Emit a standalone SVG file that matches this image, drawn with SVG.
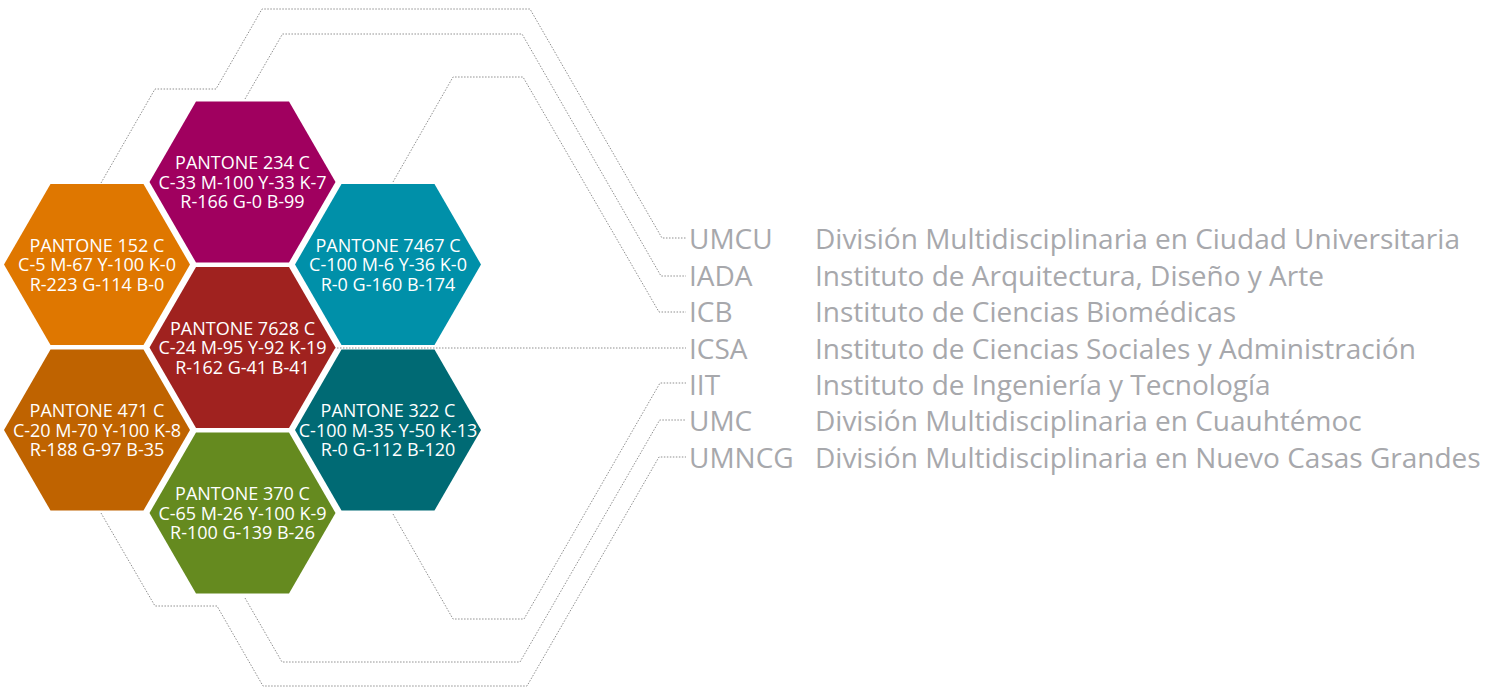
<svg xmlns="http://www.w3.org/2000/svg" xmlns:xlink="http://www.w3.org/1999/xlink" width="1500" height="688" viewBox="0 0 1500 688">
<style>
.conn{fill:none;stroke:#8f8f8f;stroke-width:1;stroke-dasharray:1.5 1.5}
.ht{font-family:"Open Sans","Liberation Sans",sans-serif;font-size:18px;fill:#ffffff;text-anchor:middle}
.lab{font-family:"Open Sans","Liberation Sans",sans-serif;font-size:28px;fill:#a7a8ac}
</style>
<defs>
<polygon id="hex" points="-93,0 -46.5,-80.5 46.5,-80.5 93,0 46.5,80.5 -46.5,80.5"/>
</defs>
<rect width="1500" height="688" fill="#ffffff"/>
<g id="connectors">
<polyline class="conn" points="101,183 155,89 216,89 262,9 530,9 662,238 686,238"/>
<polyline class="conn" points="245,99 282.5,34 522,34 661,276 686,276"/>
<polyline class="conn" points="393,182 453,77 523,77 659,312 686,312"/>
<polyline class="conn" points="334,348 686,348"/>
<polyline class="conn" points="393,514 453,619 524,619 660,383 686,383"/>
<polyline class="conn" points="245,598 282,662 520,662 659.7,420 686,420"/>
<polyline class="conn" points="101,513 155,606 217,606 263,686 527,686 659,457 686,457"/>
</g>
<g id="hex-234" transform="translate(242.5,182)">
<use xlink:href="#hex" fill="#a0005f"/>
<text class="ht" y="-13"><tspan x="0">PANTONE 234 C</tspan><tspan x="0" dy="19.5">C-33 M-100 Y-33 K-7</tspan><tspan x="0" dy="19.5">R-166 G-0 B-99</tspan></text>
</g>
<g id="hex-152" transform="translate(97,264.5)">
<use xlink:href="#hex" fill="#df7700"/>
<text class="ht" y="-13"><tspan x="0">PANTONE 152 C</tspan><tspan x="0" dy="19.5">C-5 M-67 Y-100 K-0</tspan><tspan x="0" dy="19.5">R-223 G-114 B-0</tspan></text>
</g>
<g id="hex-7467" transform="translate(388,264.5)">
<use xlink:href="#hex" fill="#0090a9"/>
<text class="ht" y="-13"><tspan x="0">PANTONE 7467 C</tspan><tspan x="0" dy="19.5">C-100 M-6 Y-36 K-0</tspan><tspan x="0" dy="19.5">R-0 G-160 B-174</tspan></text>
</g>
<g id="hex-7628" transform="translate(242.5,347.5)">
<use xlink:href="#hex" fill="#a0221f"/>
<text class="ht" y="-13"><tspan x="0">PANTONE 7628 C</tspan><tspan x="0" dy="19.5">C-24 M-95 Y-92 K-19</tspan><tspan x="0" dy="19.5">R-162 G-41 B-41</tspan></text>
</g>
<g id="hex-471" transform="translate(97,430)">
<use xlink:href="#hex" fill="#bf6300"/>
<text class="ht" y="-13"><tspan x="0">PANTONE 471 C</tspan><tspan x="0" dy="19.5">C-20 M-70 Y-100 K-8</tspan><tspan x="0" dy="19.5">R-188 G-97 B-35</tspan></text>
</g>
<g id="hex-322" transform="translate(388,430)">
<use xlink:href="#hex" fill="#006a74"/>
<text class="ht" y="-13"><tspan x="0">PANTONE 322 C</tspan><tspan x="0" dy="19.5">C-100 M-35 Y-50 K-13</tspan><tspan x="0" dy="19.5">R-0 G-112 B-120</tspan></text>
</g>
<g id="hex-370" transform="translate(242.5,513)">
<use xlink:href="#hex" fill="#658a1f"/>
<text class="ht" y="-13"><tspan x="0">PANTONE 370 C</tspan><tspan x="0" dy="19.5">C-65 M-26 Y-100 K-9</tspan><tspan x="0" dy="19.5">R-100 G-139 B-26</tspan></text>
</g>
<g id="labels">
<g id="umcu"><text class="lab" x="689" y="249">UMCU</text><text class="lab" x="815" y="249">División Multidisciplinaria en Ciudad Universitaria</text></g>
<g id="iada"><text class="lab" x="689" y="286">IADA</text><text class="lab" x="815" y="286">Instituto de Arquitectura, Diseño y Arte</text></g>
<g id="icb"><text class="lab" x="689" y="322">ICB</text><text class="lab" x="815" y="322">Instituto de Ciencias Biomédicas</text></g>
<g id="icsa"><text class="lab" x="689" y="359">ICSA</text><text class="lab" x="815" y="359">Instituto de Ciencias Sociales y Administración</text></g>
<g id="iit"><text class="lab" x="689" y="395">IIT</text><text class="lab" x="815" y="395">Instituto de Ingeniería y Tecnología</text></g>
<g id="umc"><text class="lab" x="689" y="431">UMC</text><text class="lab" x="815" y="431">División Multidisciplinaria en Cuauhtémoc</text></g>
<g id="umncg"><text class="lab" x="689" y="468">UMNCG</text><text class="lab" x="815" y="468">División Multidisciplinaria en Nuevo Casas Grandes</text></g>
</g>
</svg>
